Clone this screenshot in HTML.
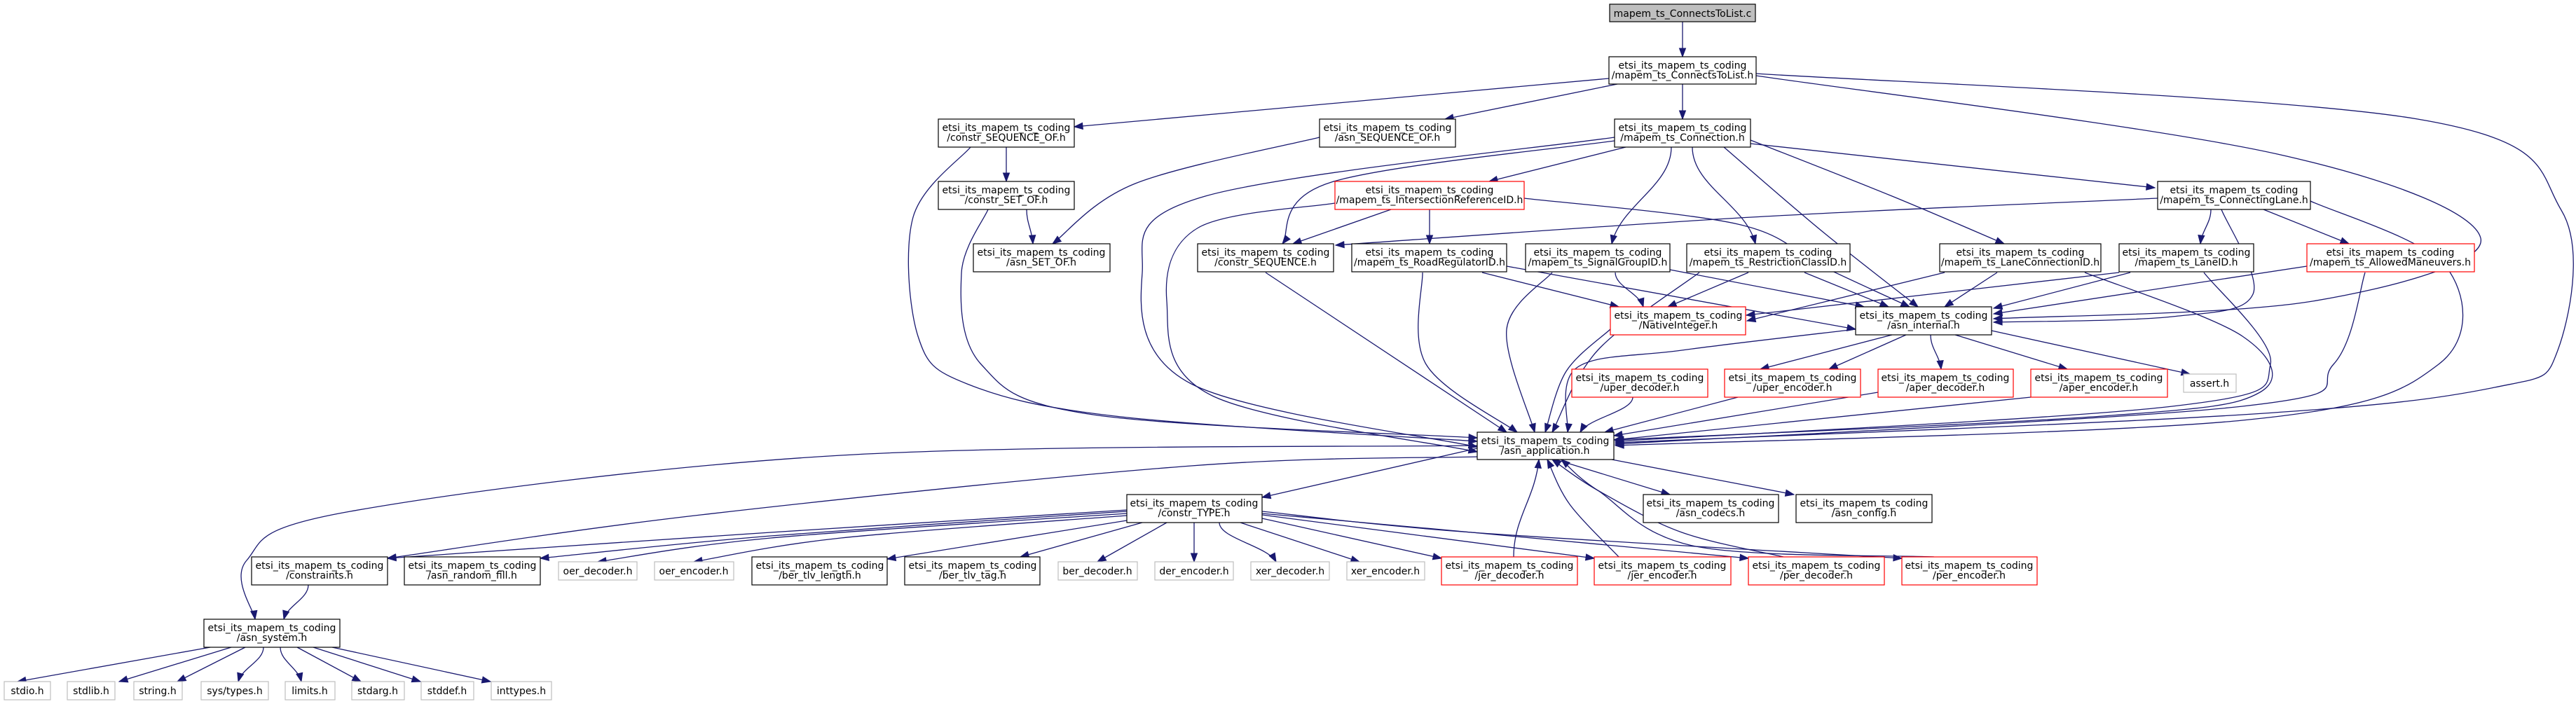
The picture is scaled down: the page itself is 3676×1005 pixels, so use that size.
<!DOCTYPE html>
<html><head><meta charset="utf-8"><style>
html,body{margin:0;padding:0;background:#fff;}
svg{display:block;}
text{font-family:"DejaVu Sans","Liberation Sans",sans-serif;font-size:14px;fill:#000;text-anchor:middle;}
.b{fill:#fff;stroke:#000;stroke-width:1.2;}
.r{fill:#fff;stroke:#ff0000;stroke-width:1.2;}
.g{fill:#fff;stroke:#bfbfbf;stroke-width:1.2;}
.root{fill:#bfbfbf;stroke:#000;stroke-width:1.2;}
</style></head><body>
<svg id="s" width="3676" height="1005" viewBox="0 0 3676 1005" xmlns="http://www.w3.org/2000/svg">
<g id="edges" fill="none" stroke="#191970" stroke-width="1.3"></g>
<g id="arrows" fill="#191970" stroke="#191970" stroke-width="1"></g>
<g id="nodes">
<rect class="root" x="2297" y="6" width="208" height="25"/><text x="2401" y="24">mapem_ts_ConnectsToList.c</text>
<rect class="b" x="2296" y="81" width="210" height="39"/><text x="2401" y="98">etsi_its_mapem_ts_coding</text><text x="2401" y="112">/mapem_ts_ConnectsToList.h</text>
<rect class="b" x="1339" y="170" width="194" height="40"/><text x="1436" y="187">etsi_its_mapem_ts_coding</text><text x="1436" y="201">/constr_SEQUENCE_OF.h</text>
<rect class="b" x="1883" y="170" width="194" height="40"/><text x="1980" y="187">etsi_its_mapem_ts_coding</text><text x="1980" y="201">/asn_SEQUENCE_OF.h</text>
<rect class="b" x="2304" y="170" width="194" height="40"/><text x="2401" y="187">etsi_its_mapem_ts_coding</text><text x="2401" y="201">/mapem_ts_Connection.h</text>
<rect class="b" x="1339" y="259" width="194" height="40"/><text x="1436" y="276">etsi_its_mapem_ts_coding</text><text x="1436" y="290">/constr_SET_OF.h</text>
<rect class="r" x="1905" y="259" width="270" height="40"/><text x="2040" y="276">etsi_its_mapem_ts_coding</text><text x="2040" y="290">/mapem_ts_IntersectionReferenceID.h</text>
<rect class="b" x="3079" y="259" width="218" height="40"/><text x="3188" y="276">etsi_its_mapem_ts_coding</text><text x="3188" y="290">/mapem_ts_ConnectingLane.h</text>
<rect class="b" x="1389" y="348" width="195" height="40"/><text x="1486" y="365">etsi_its_mapem_ts_coding</text><text x="1486" y="379">/asn_SET_OF.h</text>
<rect class="b" x="1709" y="348" width="194" height="40"/><text x="1806" y="365">etsi_its_mapem_ts_coding</text><text x="1806" y="379">/constr_SEQUENCE.h</text>
<rect class="b" x="1929" y="348" width="221" height="40"/><text x="2040" y="365">etsi_its_mapem_ts_coding</text><text x="2040" y="379">/mapem_ts_RoadRegulatorID.h</text>
<rect class="b" x="2177" y="348" width="206" height="40"/><text x="2280" y="365">etsi_its_mapem_ts_coding</text><text x="2280" y="379">/mapem_ts_SignalGroupID.h</text>
<rect class="b" x="2407" y="348" width="233" height="40"/><text x="2523" y="365">etsi_its_mapem_ts_coding</text><text x="2523" y="379">/mapem_ts_RestrictionClassID.h</text>
<rect class="b" x="2768" y="348" width="230" height="40"/><text x="2883" y="365">etsi_its_mapem_ts_coding</text><text x="2883" y="379">/mapem_ts_LaneConnectionID.h</text>
<rect class="b" x="3024" y="348" width="192" height="40"/><text x="3120" y="365">etsi_its_mapem_ts_coding</text><text x="3120" y="379">/mapem_ts_LaneID.h</text>
<rect class="r" x="3292" y="348" width="239" height="40"/><text x="3411" y="365">etsi_its_mapem_ts_coding</text><text x="3411" y="379">/mapem_ts_AllowedManeuvers.h</text>
<rect class="r" x="2298" y="438" width="193" height="40"/><text x="2395" y="455">etsi_its_mapem_ts_coding</text><text x="2395" y="469">/NativeInteger.h</text>
<rect class="b" x="2648" y="438" width="194" height="40"/><text x="2745" y="455">etsi_its_mapem_ts_coding</text><text x="2745" y="469">/asn_internal.h</text>
<rect class="r" x="2243" y="527" width="194" height="40"/><text x="2340" y="544">etsi_its_mapem_ts_coding</text><text x="2340" y="558">/uper_decoder.h</text>
<rect class="r" x="2461" y="527" width="194" height="40"/><text x="2558" y="544">etsi_its_mapem_ts_coding</text><text x="2558" y="558">/uper_encoder.h</text>
<rect class="r" x="2680" y="527" width="193" height="40"/><text x="2776" y="544">etsi_its_mapem_ts_coding</text><text x="2776" y="558">/aper_decoder.h</text>
<rect class="r" x="2898" y="527" width="195" height="40"/><text x="2995" y="544">etsi_its_mapem_ts_coding</text><text x="2995" y="558">/aper_encoder.h</text>
<rect class="g" x="3116" y="534" width="75" height="26"/><text x="3153" y="552">assert.h</text>
<rect class="b" x="2108" y="617" width="195" height="39"/><text x="2205" y="634">etsi_its_mapem_ts_coding</text><text x="2205" y="648">/asn_application.h</text>
<rect class="b" x="1608" y="706" width="193" height="40"/><text x="1704" y="723">etsi_its_mapem_ts_coding</text><text x="1704" y="737">/constr_TYPE.h</text>
<rect class="b" x="2345" y="706" width="193" height="40"/><text x="2441" y="723">etsi_its_mapem_ts_coding</text><text x="2441" y="737">/asn_codecs.h</text>
<rect class="b" x="2563" y="706" width="194" height="40"/><text x="2660" y="723">etsi_its_mapem_ts_coding</text><text x="2660" y="737">/asn_config.h</text>
<rect class="b" x="359" y="795" width="194" height="40"/><text x="456" y="812">etsi_its_mapem_ts_coding</text><text x="456" y="826">/constraints.h</text>
<rect class="b" x="577" y="795" width="194" height="40"/><text x="674" y="812">etsi_its_mapem_ts_coding</text><text x="674" y="826">/asn_random_fill.h</text>
<rect class="g" x="797" y="802" width="112" height="26"/><text x="853" y="820">oer_decoder.h</text>
<rect class="g" x="934" y="802" width="113" height="26"/><text x="990" y="820">oer_encoder.h</text>
<rect class="b" x="1073" y="795" width="193" height="40"/><text x="1170" y="812">etsi_its_mapem_ts_coding</text><text x="1170" y="826">/ber_tlv_length.h</text>
<rect class="b" x="1291" y="795" width="193" height="40"/><text x="1388" y="812">etsi_its_mapem_ts_coding</text><text x="1388" y="826">/ber_tlv_tag.h</text>
<rect class="g" x="1510" y="802" width="113" height="26"/><text x="1566" y="820">ber_decoder.h</text>
<rect class="g" x="1648" y="802" width="112" height="26"/><text x="1704" y="820">der_encoder.h</text>
<rect class="g" x="1785" y="802" width="112" height="26"/><text x="1841" y="820">xer_decoder.h</text>
<rect class="g" x="1922" y="802" width="111" height="26"/><text x="1977" y="820">xer_encoder.h</text>
<rect class="r" x="2057" y="795" width="194" height="40"/><text x="2154" y="812">etsi_its_mapem_ts_coding</text><text x="2154" y="826">/jer_decoder.h</text>
<rect class="r" x="2275" y="795" width="195" height="40"/><text x="2372" y="812">etsi_its_mapem_ts_coding</text><text x="2372" y="826">/jer_encoder.h</text>
<rect class="r" x="2495" y="795" width="194" height="40"/><text x="2592" y="812">etsi_its_mapem_ts_coding</text><text x="2592" y="826">/per_decoder.h</text>
<rect class="r" x="2714" y="795" width="193" height="40"/><text x="2810" y="812">etsi_its_mapem_ts_coding</text><text x="2810" y="826">/per_encoder.h</text>
<rect class="b" x="291" y="884" width="194" height="40"/><text x="388" y="901">etsi_its_mapem_ts_coding</text><text x="388" y="915">/asn_system.h</text>
<rect class="g" x="6" y="973" width="66" height="26"/><text x="39" y="991">stdio.h</text>
<rect class="g" x="96" y="973" width="68" height="26"/><text x="130" y="991">stdlib.h</text>
<rect class="g" x="191" y="973" width="69" height="26"/><text x="225" y="991">string.h</text>
<rect class="g" x="287" y="973" width="96" height="26"/><text x="335" y="991">sys/types.h</text>
<rect class="g" x="407" y="973" width="71" height="26"/><text x="442" y="991">limits.h</text>
<rect class="g" x="502" y="973" width="75" height="26"/><text x="539" y="991">stdarg.h</text>
<rect class="g" x="601" y="973" width="75" height="26"/><text x="638" y="991">stddef.h</text>
<rect class="g" x="701" y="973" width="86" height="26"/><text x="744" y="991">inttypes.h</text>
</g>
</svg>
<script>
var E=[
[[2401,31],[2401,81]],
[[2296,112],[1533,181]],
[[2308,120],[2062,170]],
[[2401,120],[2401,170]],
[[2506,108],[3250,220],[3540,340],[3300,430],[2845,455]],
[[2506,105],[3450,170],[3655,300],[3650,500],[3560,553],[3200,592],[2305,632]],
[[1436,210],[1436,259]],
[[1385,210],[1303,310],[1310,480],[1380,548],[1600,595],[2108,630]],
[[1465,299],[1474,348]],
[[1410,299],[1372,390],[1400,520],[1560,592],[2108,625]],
[[1883,196],[1620,262],[1502,348]],
[[2304,196],[1720,280],[1630,390],[1700,548],[2108,638]],
[[2304,201],[1900,260],[1830,348]],
[[2320,210],[2125,259]],
[[2385,210],[2300,348]],
[[2415,210],[2505,348]],
[[2460,210],[2600,330],[2737,438]],
[[2498,200],[2700,280],[2860,348]],
[[2498,205],[3075,268]],
[[1985,299],[1845,348]],
[[2040,299],[2040,348]],
[[2175,283],[2480,320],[2600,380],[2725,438]],
[[1905,290],[1710,325],[1665,430],[1730,565],[2108,645]],
[[3079,283],[2500,310],[1906,350]],
[[3155,299],[3140,348]],
[[3230,299],[3352,348]],
[[3170,299],[3215,420],[3100,452],[2845,460]],
[[3297,287],[3490,380],[3480,520],[3200,600],[2305,636]],
[[1806,389],[2150,617]],
[[2030,389],[2035,520],[2165,617]],
[[2115,389],[2310,438]],
[[2150,380],[2648,470]],
[[2215,389],[2150,470],[2190,617]],
[[2305,389],[2345,438]],
[[2383,385],[2660,438]],
[[2425,389],[2280,500],[2215,617]],
[[2495,389],[2380,438]],
[[2575,389],[2695,438]],
[[2775,389],[2493,458]],
[[2850,389],[2775,438]],
[[2975,389],[3200,480],[3225,560],[3000,594],[2305,628]],
[[3024,389],[2492,450]],
[[3040,389],[2845,440]],
[[3145,389],[3240,520],[3100,580],[2305,630]],
[[3292,380],[2845,448]],
[[3375,389],[3330,520],[3200,580],[2305,634]],
[[2298,470],[2235,530],[2205,617]],
[[2648,470],[2400,500],[2250,525],[2237,617]],
[[2700,478],[2512,527]],
[[2720,478],[2610,527]],
[[2755,478],[2770,527]],
[[2790,478],[2950,527]],
[[2842,472],[3125,534]],
[[2330,567],[2255,617]],
[[2480,567],[2290,617]],
[[2680,560],[2303,622]],
[[2898,567],[2303,628]],
[[2108,640],[1801,710]],
[[2108,652],[1700,665],[1000,735],[553,797]],
[[2108,636],[1200,650],[500,730],[352,800],[364,884]],
[[2220,656],[2383,706]],
[[2300,656],[2560,706]],
[[2160,795],[2196,656]],
[[2310,795],[2240,720],[2208,656]],
[[2545,795],[2400,760],[2280,700],[2215,656]],
[[2760,795],[2420,780],[2280,700],[2228,656]],
[[1608,728],[1100,760],[553,797]],
[[1608,730],[1100,765],[771,797]],
[[1608,733],[1100,768],[853,802]],
[[1608,736],[1200,768],[990,802]],
[[1608,743],[1266,798]],
[[1630,746],[1456,795]],
[[1665,746],[1566,802]],
[[1704,746],[1704,802]],
[[1740,746],[1821,802]],
[[1770,746],[1940,802]],
[[1801,740],[2057,797]],
[[1801,735],[2275,797]],
[[1801,733],[2100,760],[2495,797]],
[[1801,730],[2100,760],[2714,797]],
[[440,835],[405,884]],
[[300,924],[25,973]],
[[330,924],[170,973]],
[[350,924],[253,973]],
[[376,924],[340,973]],
[[400,924],[430,973]],
[[424,924],[515,973]],
[[447,924],[600,973]],
[[474,924],[700,973]]
];
var ns="http://www.w3.org/2000/svg",eg=document.getElementById("edges"),ag=document.getElementById("arrows");
function f(v){return v.toFixed(1);}
E.forEach(function(p){
  var d="M"+f(p[0][0])+","+f(p[0][1]),c2;
  if(p.length==2){
    var dx=p[1][0]-p[0][0],dy=p[1][1]-p[0][1];
    if(Math.abs(dx)>Math.abs(dy)*1.5||Math.abs(dx)<2){c2=p[0];d+=" L"+f(p[1][0])+","+f(p[1][1]);}
    else{var c1=[p[0][0],p[0][1]+dy*0.4];c2=[p[1][0]-dx*0.15,p[1][1]-dy*0.4];
      d+=" C"+f(c1[0])+","+f(c1[1])+" "+f(c2[0])+","+f(c2[1])+" "+f(p[1][0])+","+f(p[1][1]);}
  } else {
    for(var i=0;i<p.length-1;i++){
      var a=p[i-1]||p[i],b=p[i],c=p[i+1],e=p[i+2]||p[i+1];
      var k1=[b[0]+(c[0]-a[0])/6,b[1]+(c[1]-a[1])/6],k2=[c[0]-(e[0]-b[0])/6,c[1]-(e[1]-b[1])/6];
      d+=" C"+f(k1[0])+","+f(k1[1])+" "+f(k2[0])+","+f(k2[1])+" "+f(c[0])+","+f(c[1]);
      c2=k2;
    }
  }
  var P=p[p.length-1],ux=P[0]-c2[0],uy=P[1]-c2[1],L=Math.hypot(ux,uy)||1;ux/=L;uy/=L;
  var path=document.createElementNS(ns,"path");path.setAttribute("d",d);eg.appendChild(path);
  var bx=P[0]-ux*12,by=P[1]-uy*12,px=-uy*4.5,py=ux*4.5;
  var poly=document.createElementNS(ns,"polygon");
  poly.setAttribute("points",f(P[0])+","+f(P[1])+" "+f(bx+px)+","+f(by+py)+" "+f(bx-px)+","+f(by-py));
  ag.appendChild(poly);
});
</script>
</body></html>
